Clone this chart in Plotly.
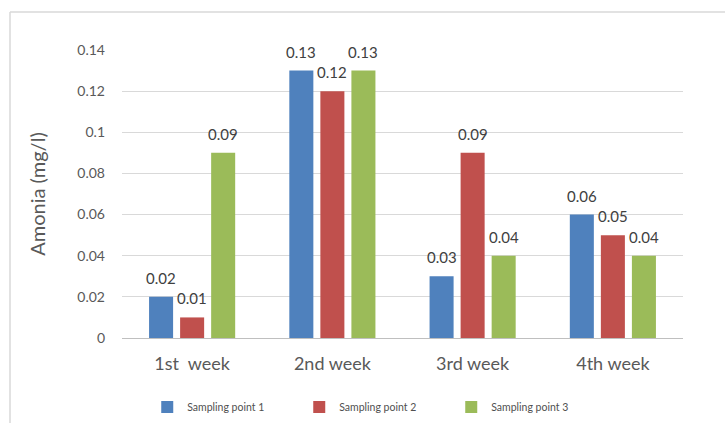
import plotly.graph_objects as go

weeks = ["1st  week", "2nd week", "3rd week", "4th week"]
point1 = [0.02, 0.13, 0.03, 0.06]
point2 = [0.01, 0.12, 0.09, 0.05]
point3 = [0.09, 0.13, 0.04, 0.04]
series_names = ["Sampling point 1", "Sampling point 2", "Sampling point 3"]
series_colors = ["#4F81BD", "#C0504D", "#9BBB59"]
y_ticks = [0, 0.02, 0.04, 0.06, 0.08, 0.1, 0.12, 0.14]
y_tick_text = ["0", "0.02", "0.04", "0.06", "0.08", "0.1", "0.12", "0.14"]

FONT = "Lato, 'Open Sans', sans-serif"
SLOT_PX = 31  # width of one bar slot inside a group, in pixels

fig = go.Figure()
annotations = []
series = [point1, point2, point3]
for k, (name, vals, col) in enumerate(zip(series_names, series, series_colors)):
    fig.add_trace(go.Bar(
        x=weeks, y=vals, name=name,
        marker=dict(color=col, line=dict(width=0)),
        cliponaxis=False,
    ))
    # value labels sitting above each bar
    for w, v in zip(weeks, vals):
        annotations.append(dict(
            x=w, y=v, xref="x", yref="y", text=f"{v:g}", showarrow=False,
            xshift=(k - 1) * SLOT_PX, yshift=19, yanchor="middle",
            font=dict(family=FONT, size=15, color="#404040"),
        ))

fig.update_layout(
    width=725, height=423,
    margin=dict(l=122, r=42, t=50, b=85, autoexpand=False),
    paper_bgcolor="white", plot_bgcolor="white",
    barmode="group", bargap=0.336, bargroupgap=0.226,
    font=dict(family=FONT, color="#595959"),
    showlegend=True,
    legend=dict(
        orientation="h", x=0.045, xanchor="left", y=-0.24, yanchor="middle",
        font=dict(family=FONT, size=10.5, color="#505050"),
        entrywidth=107, itemclick=False,
    ),
    xaxis=dict(
        automargin=False,
        tickfont=dict(family=FONT, size=18, color="#595959"),
        showline=True, linecolor="#BFBFBF", linewidth=1,
        ticks="", showgrid=False, ticklabelstandoff=9,
    ),
    yaxis=dict(
        automargin=False,
        range=[0, 0.14], tickvals=y_ticks, ticktext=y_tick_text,
        tickfont=dict(family=FONT, size=14, color="#595959"),
        showgrid=True, gridcolor="#D9D9D9", gridwidth=1,
        zeroline=False, ticks="", ticklabelstandoff=16,
        title=dict(text="Amonia (mg/l)", font=dict(family=FONT, size=20, color="#595959"),
                   standoff=26),
    ),
    annotations=annotations,
    shapes=[
        # outer chart frame (left and top edges)
        dict(type="line", xref="paper", yref="paper",
             x0=(10 - 122) / 561, x1=(10 - 122) / 561, y0=(338 - 12) / 288, y1=-0.3,
             line=dict(color="#D9D9D9", width=1.5)),
        dict(type="line", xref="paper", yref="paper",
             x0=(10 - 122) / 561, x1=1.08, y0=(338 - 12) / 288, y1=(338 - 12) / 288,
             line=dict(color="#D9D9D9", width=1.5)),
    ],
)

fig.write_html("out.html")
